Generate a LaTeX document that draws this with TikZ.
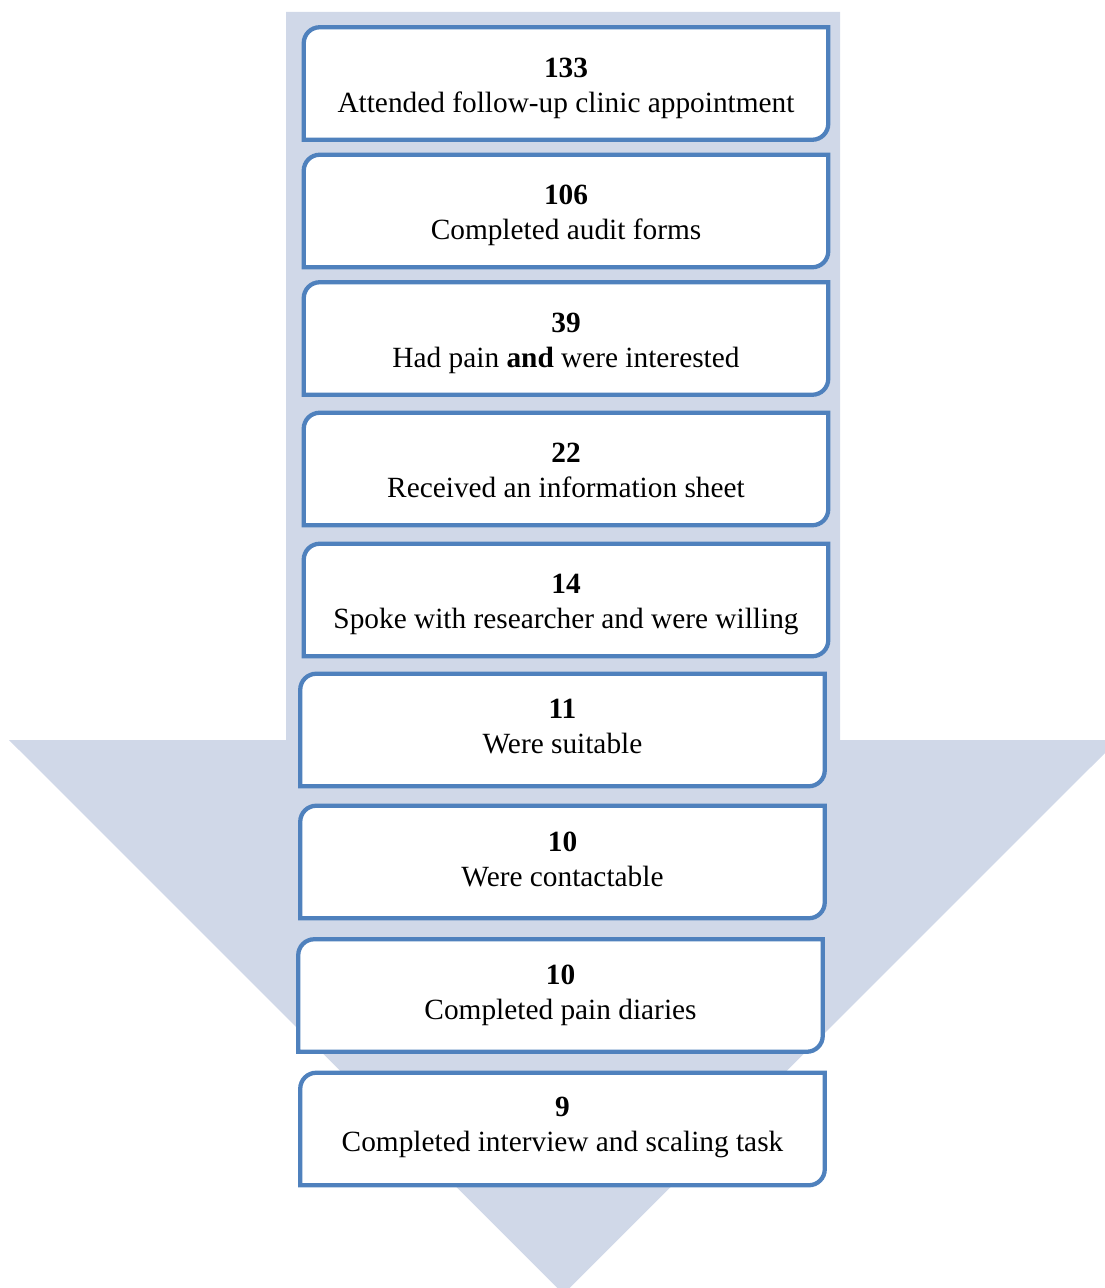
\documentclass[tikz,border=0pt]{standalone}
\usepackage{fontspec}
\setmainfont{Liberation Serif}
\definecolor{arrowfill}{RGB}{208,216,232}
\definecolor{framecol}{RGB}{79,129,189}
\newcommand\frameit[1]{%
  \draw[frame] (#1.south west) -- ([yshift=-12pt]#1.north west)
    arc[start angle=180,end angle=90,radius=12pt] -- (#1.north east)
    -- ([yshift=12pt]#1.south east)
    arc[start angle=0,end angle=-90,radius=12pt] -- cycle;}
\begin{document}
\begin{tikzpicture}[x=0.75pt,y=-0.75pt,
  frame/.style={draw=framecol,line width=3.2pt,fill=white},
  stage/.style={minimum width=393pt,minimum height=84pt,inner sep=0pt,
    align=center,font=\fontsize{22}{26.25}\selectfont},
  label/.style={stage,yshift=-3.5pt}]
\useasboundingbox (0,0) rectangle (1105,1288);
\clip (0,0) rectangle (1105,1288);
\fill[arrowfill] (286,12) -- (840,12) -- (840,740) -- (1118,740) -- (563.5,1294)
  -- (9,740) -- (286,740) -- cycle;
\node[stage] (s1) at (566,83.5) {};
\node[stage] (s2) at (566,211) {};
\node[stage] (s3) at (566,338.5) {};
\node[stage] (s4) at (566,469) {};
\node[stage] (s5) at (566,600) {};
\node[stage] (s6) at (562.5,730) {};
\node[stage] (s7) at (562.5,862) {};
\node[stage] (s8) at (560.5,995.5) {};
\node[stage] (s9) at (562.5,1129) {};
\foreach \n in {s1,s2,s3,s4,s5,s6,s7,s8,s9} {\frameit{\n}}
\node[label] at (s1) {\textbf{133}\\Attended follow-up clinic appointment};
\node[label] at (s2) {\textbf{106}\\Completed audit forms};
\node[label] at (s3) {\textbf{39}\\Had pain \textbf{and} were interested};
\node[label,yshift=2.25pt] at (s4) {\textbf{22}\\Received an information sheet};
\node[label] at (s5) {\textbf{14}\\Spoke with researcher and were willing};
\node[label,yshift=6pt] at (s6) {\textbf{11}\\Were suitable};
\node[label,yshift=5.25pt] at (s7) {\textbf{10}\\Were contactable};
\node[label,yshift=3.75pt] at (s8) {\textbf{10}\\Completed pain diaries};
\node[label,yshift=4.5pt] at (s9) {\textbf{9}\\Completed interview and scaling task};
\end{tikzpicture}
\end{document}
